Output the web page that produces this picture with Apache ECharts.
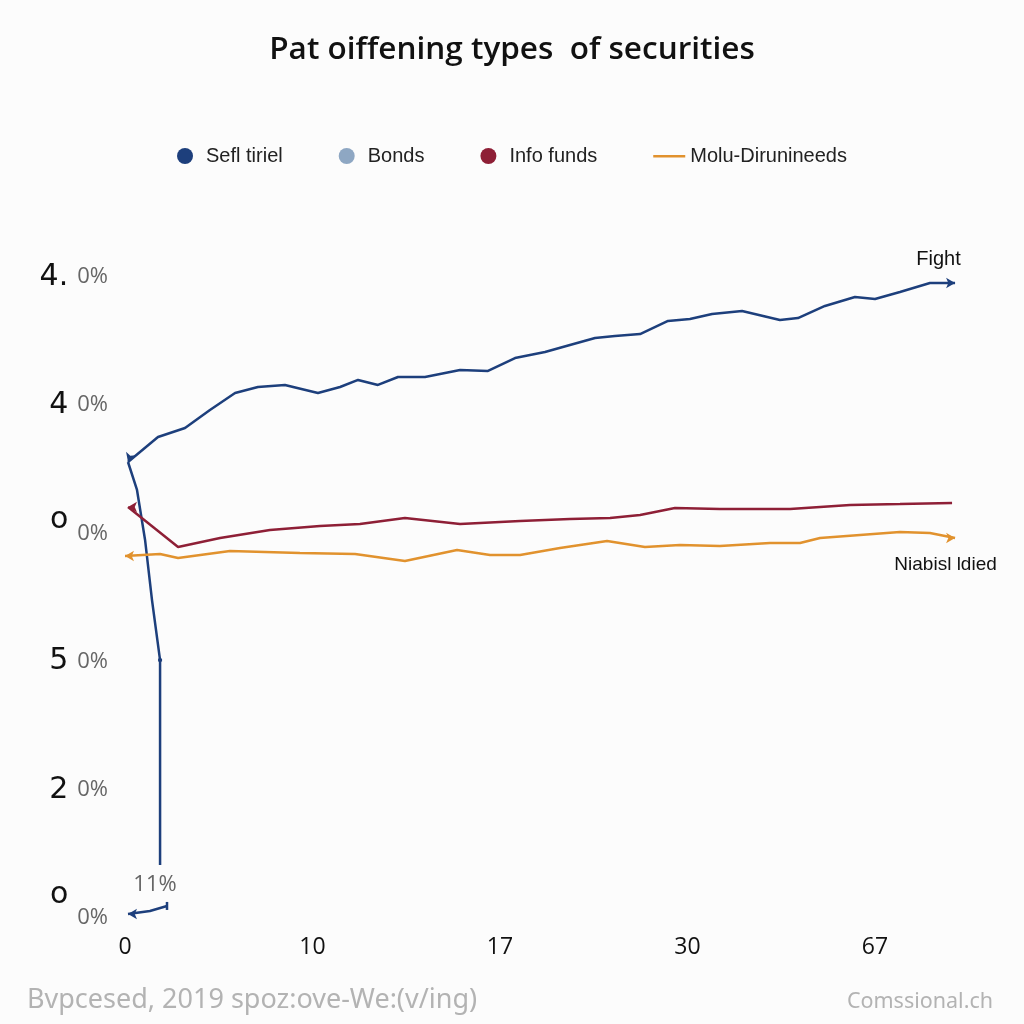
<!DOCTYPE html>
<html><head><meta charset="utf-8">
<script src="https://cdn.jsdelivr.net/npm/echarts@6/dist/echarts.min.js"></script>
<style>html,body{margin:0;padding:0;background:#fcfcfc}#c{width:1024px;height:1024px}</style>
</head><body><div id="c"></div>
<script>
const titleText = 'Pat oiffening types  of securities';
const legendNames = ['Sefl tiriel', 'Bonds', 'Info funds', 'Molu-Dirunineeds'];
const xTickLabels = ['0', '10', '17', '30', '67'];
const yTickBig = ['o', '2', '5', 'o', '4', '4.'];
const yTickPct = ['0%', '0%', '0%', '0%', '0%', '0%'];
const footLeft = 'Bvpcesed, 2019 spoz:ove-We:(v/ing)';
const footRight = 'Comssional.ch';

const selfTiriel = [
  [0.016,3.557],[0.176,3.752],[0.320,3.822],[0.453,3.963],[0.587,4.095],[0.709,4.142],
  [0.853,4.158],[1.029,4.095],[1.147,4.142],[1.243,4.197],[1.349,4.158],[1.456,4.220],
  [1.600,4.220],[1.787,4.275],[1.936,4.267],[2.080,4.368],[2.240,4.415],[2.373,4.470],
  [2.507,4.524],[2.613,4.540],[2.747,4.555],[2.896,4.657],[3.013,4.672],[3.131,4.711],
  [3.291,4.735],[3.493,4.665],[3.589,4.680],[3.733,4.774],[3.893,4.844],[4.000,4.828],
  [4.133,4.883],[4.293,4.953],[4.427,4.953]
];
const selfTirielDrop = [[0.016,3.557],[0.064,3.339],[0.107,2.949],[0.144,2.480],[0.187,2.012],[0.187,0.413]];
const selfTirielStub = [[0.016,0.031],[0.133,0.055],[0.224,0.094]];
const bonds = [];
const infoFunds = [
  [0.016,3.206],[0.283,2.894],[0.507,2.964],[0.773,3.027],[1.040,3.058],[1.253,3.073],
  [1.493,3.120],[1.787,3.073],[2.107,3.097],[2.373,3.112],[2.587,3.120],[2.747,3.144],
  [2.933,3.198],[3.173,3.190],[3.547,3.190],[3.867,3.222],[4.133,3.229],[4.411,3.237]
];
const moluDir = [
  [0.000,2.824],[0.187,2.839],[0.283,2.808],[0.560,2.863],[0.933,2.847],[1.227,2.839],
  [1.493,2.785],[1.771,2.871],[1.947,2.832],[2.107,2.832],[2.320,2.886],[2.571,2.941],
  [2.773,2.894],[2.960,2.910],[3.173,2.902],[3.440,2.925],[3.600,2.925],[3.707,2.964],
  [3.920,2.988],[4.133,3.011],[4.293,3.003],[4.427,2.964]
];
const annFight = 'Fight';
const annNiab = 'Niabisl ldied';
const annStub = '11%';

const C_BLUE = '#1d3f7c', C_BONDS = '#8ea7c3', C_RED = '#8e1f36', C_ORANGE = '#e1922e';

function deco(data, opts) {
  return data.map((p, i) => {
    const it = { value: p };
    const last = i === data.length - 1;
    if (i === 0 && opts.start != null) { it.symbol = 'arrow'; it.symbolSize = [8, 9]; it.symbolRotate = opts.start; }
    if (last && opts.end != null) { it.symbol = 'arrow'; it.symbolSize = [8, 9]; it.symbolRotate = opts.end; }
    if (last && opts.endTick) { it.symbol = 'rect'; it.symbolSize = [2.5, 8]; }
    if (opts.tickAt != null && i === opts.tickAt) { it.symbol = 'rect'; it.symbolSize = [4, 3]; }
    if (last && opts.label) it.label = Object.assign({ show: true }, opts.label);
    return it;
  });
}

function lineSeries(name, color, width, data) {
  return {
    name, type: 'line', data, color, symbol: 'circle', symbolSize: 0, showSymbol: true,
    lineStyle: { color, width }, itemStyle: { color }, silent: true, z: 3, clip: false
  };
}

const lineIcon = 'path://M0,0 M32,16 M0,7 L32,7 L32,9.5 L0,9.5 Z';

const option = {
  backgroundColor: '#fcfcfc',
  animation: false,
  title: [
    { text: titleText, left: 'center', top: 29, textStyle: { fontFamily: 'Open Sans', fontSize: 31.5, fontWeight: 600, color: '#111' } },
    { text: footLeft, left: 22, top: 982, textStyle: { fontFamily: 'Noto Sans', fontSize: 27, fontWeight: 'normal', color: '#b3b3b3' } },
    { text: footRight, right: 26, top: 986, textStyle: { fontFamily: 'Noto Sans', fontSize: 21.5, fontWeight: 'normal', color: '#b3b3b3' } }
  ],
  legend: {
    top: 141, left: 'center', itemGap: 56, itemWidth: 32, itemHeight: 16,
    textStyle: { fontFamily: 'Liberation Sans', fontSize: 20, color: '#222' },
    data: [
      { name: legendNames[0], icon: 'circle' },
      { name: legendNames[1], icon: 'circle' },
      { name: legendNames[2], icon: 'circle' },
      { name: legendNames[3], icon: lineIcon }
    ]
  },
  grid: { left: 125, right: 55.25, top: 277, bottom: 106, containLabel: false },
  xAxis: {
    type: 'value', min: 0, max: 4.5, interval: 1,
    axisLine: { show: false }, axisTick: { show: false }, splitLine: { show: false },
    axisLabel: {
      margin: 18, fontFamily: 'Open Sans', fontSize: 23, color: '#111',
      formatter: v => { const i = Math.round(v); return Math.abs(v - i) < 1e-6 && xTickLabels[i] != null ? xTickLabels[i] : ''; }
    }
  },
  yAxis: {
    type: 'value', min: 0, max: 5, interval: 1,
    axisLine: { show: false }, axisTick: { show: false }, splitLine: { show: false },
    axisLabel: {
      margin: 17,
      formatter: v => {
        const i = Math.round(v);
        if (Math.abs(v - i) > 1e-6 || yTickBig[i] == null) return '';
        const st = i === 0 ? 'b0' : (i === 3 ? 'b3' : 'b');
        return '{' + st + '|' + yTickBig[i] + '}{s|' + yTickPct[i] + '}';
      },
      rich: {
        b: { fontFamily: 'DejaVu Sans', fontSize: 30, color: '#111', padding: [0, 9, 0, 0] },
        b0: { fontFamily: 'DejaVu Sans', fontSize: 30, color: '#111', padding: [0, 9, 46, 0] },
        b3: { fontFamily: 'DejaVu Sans', fontSize: 30, color: '#111', padding: [0, 9, 26, 0] },
        s: { fontFamily: 'Open Sans', fontSize: 22, color: '#666' }
      }
    }
  },
  series: [
    lineSeries(legendNames[0], C_BLUE, 2.5, deco(selfTiriel, {
      start: 160, end: -90,
      label: { position: 'top', distance: 8, offset: [-12, 0], formatter: annFight, fontFamily: 'Liberation Sans', fontSize: 20, color: '#111' }
    })),
    lineSeries('__drop', C_BLUE, 2.5, deco(selfTirielDrop, { tickAt: 4 })),
    lineSeries('__stub', C_BLUE, 2.5, deco(selfTirielStub, {
      start: 90, endTick: true,
      label: { position: 'top', distance: 6, offset: [-12, 0], formatter: annStub, fontFamily: 'Open Sans', fontSize: 22, color: '#666' }
    })),
    lineSeries(legendNames[1], C_BONDS, 2.5, bonds),
    lineSeries(legendNames[2], C_RED, 2.5, deco(infoFunds, { start: 90 })),
    lineSeries(legendNames[3], C_ORANGE, 2.5, deco(moluDir, {
      start: 90, end: -90,
      label: { position: 'bottom', distance: 12, offset: [-5, 0], formatter: annNiab, fontFamily: 'Liberation Sans', fontSize: 19, color: '#111' }
    }))
  ]
};

const chart = echarts.init(document.getElementById('c'), null, { renderer: 'canvas' });
chart.setOption(option);
</script>
</body></html>
